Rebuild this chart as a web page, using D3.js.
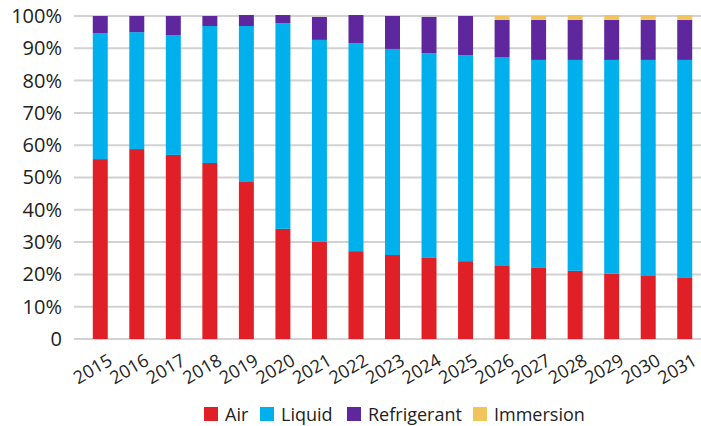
<!DOCTYPE html>
<html>
<head>
<meta charset="utf-8">
<script src="https://cdn.jsdelivr.net/npm/d3@7"></script>
<style>
  body { margin: 0; background: #fff; }
  svg { display: block; font-family: "Open Sans", "Noto Sans", sans-serif; }
</style>
</head>
<body>
<div id="chart"></div>
<script>
let width = 701,
    height = 426;

// data (percent shares)
let years = ["2015","2016","2017","2018","2019","2020","2021","2022","2023","2024","2025","2026","2027","2028","2029","2030","2031"];
let air = [55.7, 58.8, 57.0, 54.5, 48.6, 34.1, 30.1, 27.2, 26.0, 25.1, 24.1, 22.6, 22.0, 21.1, 20.2, 19.5, 18.9];
let liquid = [39.0, 36.2, 37.1, 42.4, 48.3, 63.7, 62.5, 64.4, 63.8, 63.4, 63.8, 64.7, 64.4, 65.3, 66.2, 66.9, 67.5];
let refrigerant = [5.3, 5.0, 5.9, 3.1, 3.4, 2.5, 7.1, 8.7, 10.2, 11.2, 12.1, 11.5, 12.4, 12.4, 12.4, 12.4, 12.4];
let immersion = [0, 0, 0, 0, 0, 0, 0, 0, 0, 0, 0, 1.2, 1.2, 1.5, 1.5, 1.5, 1.5];
let seriesNames = ["Air", "Liquid", "Refrigerant", "Immersion"];
let colors = ["#e01f26", "#00b0ec", "#5e279e", "#f2c55c"];
let yTicks = [0, 10, 20, 30, 40, 50, 60, 70, 80, 90, 100];

let rows = years.map(function(y, i) {
  return {year: y, Air: air[i], Liquid: liquid[i], Refrigerant: refrigerant[i], Immersion: immersion[i]};
});

let svg = d3.select("#chart").append("svg")
    .attr("width", width)
    .attr("height", height);

let x = d3.scaleBand()
    .domain(years)
    .range([82, 703])
    .paddingInner(0.59)
    .paddingOuter(0.295);

let y = d3.scaleLinear()
    .domain([0, 100])
    .range([339, 16]);

// gridlines
svg.append("g")
  .selectAll("line")
  .data(yTicks)
  .enter().append("line")
    .attr("x1", 74)
    .attr("x2", 701)
    .attr("y1", function(d) { return y(d); })
    .attr("y2", function(d) { return y(d); })
    .attr("stroke", "#d2d2d2")
    .attr("stroke-width", 2);

// y labels
let yAxis = d3.axisLeft(y)
    .tickValues(yTicks)
    .tickSize(0)
    .tickPadding(0)
    .tickFormat(function(d) { return d === 0 ? "0" : d + "%"; });

svg.append("g")
    .attr("transform", "translate(62,0)")
    .call(yAxis)
    .call(function(g) { g.select(".domain").remove(); })
    .selectAll("text")
      .attr("font-size", 20)
      .attr("font-family", "\"Open Sans\", sans-serif")
      .attr("fill", "#222");

// stacked bars
let stack = d3.stack().keys(seriesNames);
let layers = stack(rows);

svg.append("g")
  .selectAll("g")
  .data(layers)
  .enter().append("g")
    .attr("fill", function(d, i) { return colors[i]; })
  .selectAll("rect")
  .data(function(d) { return d; })
  .enter().append("rect")
    .attr("x", function(d) { return x(d.data.year); })
    .attr("width", x.bandwidth())
    .attr("y", function(d) { return y(d[1]); })
    .attr("height", function(d) { return Math.max(0, y(d[0]) - y(d[1])); });

// x labels (rotated)
let xAxis = d3.axisBottom(x).tickSize(0).tickPadding(0);
let xg = svg.append("g")
    .call(xAxis);
xg.select(".domain").remove();
xg.selectAll(".tick")
    .attr("transform", function(d) { return "translate(" + (x(d) + x.bandwidth() / 2 + 7) + ",353)"; });
xg.selectAll("text")
    .attr("y", 0)
    .attr("dy", "0.71em")
    .attr("font-size", 18)
    .attr("font-family", "\"Open Sans\", sans-serif")
    .attr("fill", "#222")
    .attr("text-anchor", "end")
    .attr("transform", "rotate(-30)");

// legend
let legendX = [204, 260, 347, 473];
let legend = svg.append("g")
  .selectAll("g")
  .data(seriesNames)
  .enter().append("g")
    .attr("transform", function(d, i) { return "translate(" + legendX[i] + ",407)"; });

legend.append("rect")
    .attr("width", 14)
    .attr("height", 14)
    .attr("fill", function(d, i) { return colors[i]; });

legend.append("text")
    .attr("x", 21)
    .attr("y", 14)
    .attr("font-size", 18)
    .attr("fill", "#222")
    .text(function(d) { return d; });
</script>
</body>
</html>
